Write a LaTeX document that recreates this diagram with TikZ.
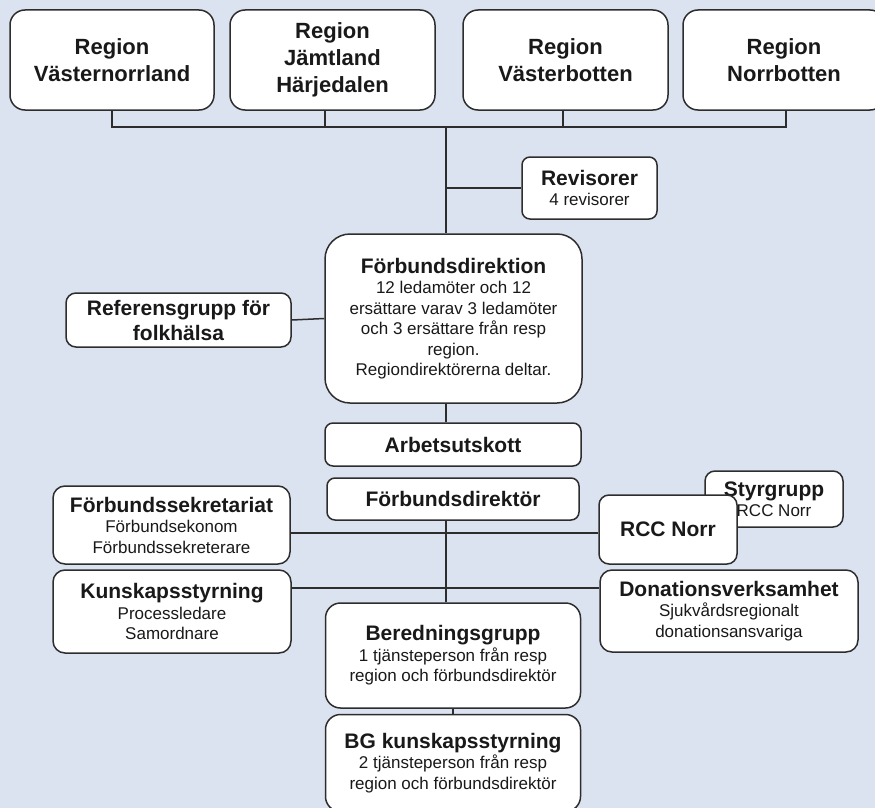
\documentclass[tikz,border=0pt]{standalone}
\usepackage{fontspec}
\setmainfont{Liberation Sans}
\definecolor{bgc}{RGB}{219,227,240}
\definecolor{lnc}{RGB}{45,45,45}
\newcommand\mytitle{\fontsize{21}{25}\selectfont\bfseries}
\newcommand\myreg{\fontsize{22}{27}\selectfont\bfseries}
\newcommand\mysub{\fontsize{17}{20.5}\selectfont}
\begin{document}
\begin{tikzpicture}[x=1pt,y=-1pt,
  box/.style={draw=lnc, line width=1.5pt, fill=white, rounded corners=#1, align=center,
    inner sep=0pt, text=black!90, font=\mysub},
  box/.default=10pt,
  conn/.style={draw=lnc, line width=1.5pt},
  regbox/.style={box=15pt, minimum height=100pt, font=\myreg},
]
\useasboundingbox (0,0) rectangle (875,808);
\fill[bgc] (0,0) rectangle (875,808);

% region boxes
\node[regbox, minimum width=204pt] (r1) at (112,60) {Region\\Västernorrland};
\node[regbox, minimum width=205pt] (r2) at (332.5,60) {Region\\Jämtland\\Härjedalen};
\node[regbox, minimum width=205pt] (r3) at (565.5,60) {Region\\Västerbotten};
\node[regbox, minimum width=202pt] (r4) at (784,60) {Region\\Norrbotten};

\coordinate (bus) at (446,127);
\coordinate (fsline) at (0,533);
\coordinate (ksline) at (0,588);

% other boxes
\node[box=8pt, minimum width=135pt, minimum height=62pt] (rev) at (589.5,188)
  {{\mytitle Revisorer}\\4 revisorer};
\node[box=25pt, minimum width=257pt, minimum height=169pt] (dir) at (453.5,318.5)
  {{\mytitle Förbundsdirektion}\\12 ledamöter och 12\\ersättare varav 3 ledamöter\\och 3 ersättare från resp\\region.\\Regiondirektörerna deltar.};
\node[box=10pt, minimum width=225pt, minimum height=54pt, font=\mytitle] (ref) at (178.5,320)
  {Referensgrupp för\\folkhälsa};
\node[box=8pt, minimum width=256pt, minimum height=43pt, font=\mytitle] (au) at (453,444.5)
  {Arbetsutskott};
\node[box=8pt, minimum width=252pt, minimum height=42pt, font=\mytitle] (fd) at (453,499)
  {Förbundsdirektör};
\node[box=12pt, minimum width=237pt, minimum height=78pt] (fs) at (171.5,525)
  {{\mytitle Förbundssekretariat}\\Förbundsekonom\\Förbundssekreterare};
\node[box=10pt, minimum width=138pt, minimum height=56pt] (sg) at (774,499)
  {{\mytitle Styrgrupp}\\RCC Norr};
\node[box=10pt, minimum width=138pt, minimum height=69pt, font=\mytitle] (rcc) at (668,529.5)
  {RCC Norr};
\node[box=12pt, minimum width=238pt, minimum height=83pt] (ks) at (172,611.5)
  {{\mytitle Kunskapsstyrning}\\Processledare\\Samordnare};
\node[box=12pt, minimum width=258pt, minimum height=82pt] (don) at (729,611)
  {{\mytitle Donationsverksamhet}\\Sjukvårdsregionalt\\donationsansvariga};
\node[box=15pt, minimum width=255pt, minimum height=105pt] (ber) at (453,655.5)
  {{\mytitle Beredningsgrupp}\\1 tjänsteperson från resp\\region och förbundsdirektör};
\node[box=15pt, minimum width=255pt, minimum height=97pt] (bg) at (453,763)
  {{\mytitle BG kunskapsstyrning}\\2 tjänsteperson från resp\\region och förbundsdirektör};

% connectors
\draw[conn] (r1.south) |- (bus);
\draw[conn] ([xshift=-7.5pt]r2.south) -- ([xshift=-7.5pt]r2.south |- bus);
\draw[conn] ([xshift=-2.5pt]r3.south) -- ([xshift=-2.5pt]r3.south |- bus);
\draw[conn] ([xshift=2pt]r4.south) |- (bus);
\draw[conn] (bus) -- (bus |- dir.north);
\draw[conn] (bus |- rev.west) -- (rev.west);
\draw[conn] (ref.east) -- (dir.west);
\draw[conn] (bus |- dir.south) -- (bus |- au.north);
\draw[conn] (fs.east |- fsline) -- (rcc.west |- fsline);
\draw[conn] (ks.east |- ksline) -- (don.west |- ksline);
\draw[conn] (bus |- fd.south) -- (bus |- ber.north);
\draw[conn] (ber.south) -- (bg.north);
\end{tikzpicture}
\end{document}
